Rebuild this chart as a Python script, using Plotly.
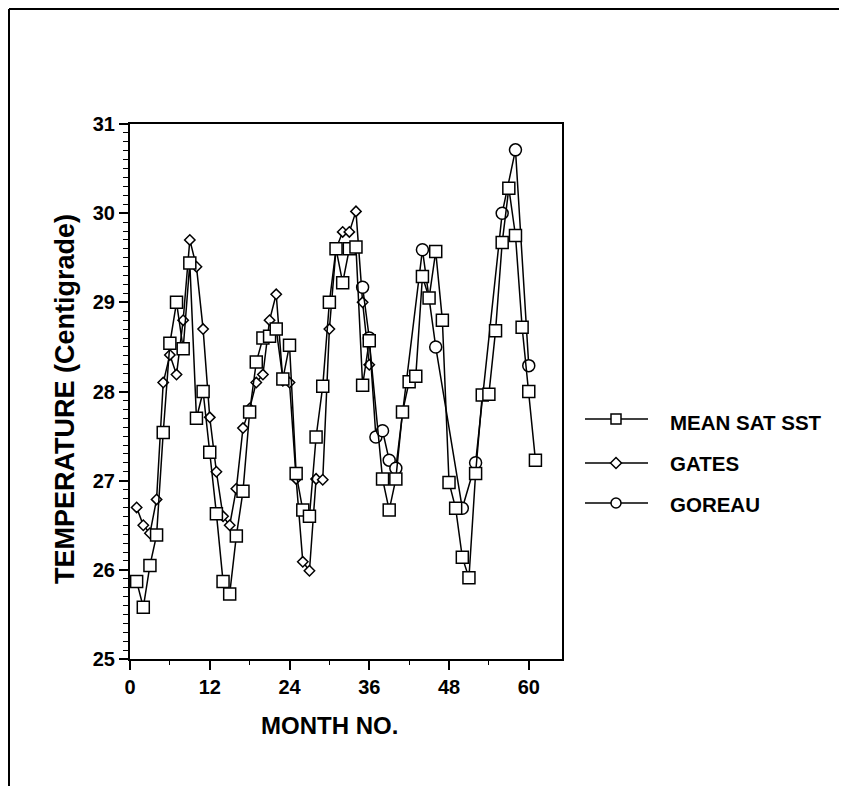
import plotly.graph_objects as go

# ---------------- data ----------------
sst_months = list(range(1, 37)) + list(range(38, 62))
sst_values = [25.87, 25.58, 26.05, 26.39, 27.54, 28.54, 29.00, 28.48, 29.44, 27.70,
              28.00, 27.32, 26.63, 25.87, 25.73, 26.38, 26.88, 27.77, 28.33, 28.60,
              28.62, 28.70, 28.14, 28.52, 27.08, 26.67, 26.60, 27.49, 28.06, 29.00,
              29.60, 29.22, 29.60, 29.62, 28.07, 28.57,
              27.02, 26.67, 27.02, 27.77, 28.11, 28.17, 29.29, 29.05, 29.57, 28.80,
              26.98, 26.69, 26.14, 25.91, 27.08, 27.96, 27.97, 28.68, 29.67, 30.28,
              29.75, 28.72, 28.00, 27.23]

gates_months = list(range(1, 37))
gates_values = [26.70, 26.50, 26.41, 26.79, 28.10, 28.41, 28.19, 28.80, 29.70, 29.40,
                28.70, 27.71, 27.10, 26.60, 26.50, 26.91, 27.59, 27.81, 28.10, 28.19,
                28.80, 29.09, 28.12, 28.10, 27.02, 26.09, 25.99, 27.02, 27.01, 28.70,
                29.60, 29.79, 29.79, 30.02, 29.00, 28.30]

goreau_months = [35, 36, 37, 38, 39, 40, 44, 46, 50, 52, 56, 58, 60]
goreau_values = [29.17, 28.60, 27.49, 27.56, 27.23, 27.14, 29.59, 28.50, 26.69, 27.20,
                 30.00, 30.71, 28.29]

series_names = ["MEAN SAT SST", "GATES", "GOREAU"]
x_ticks = [0, 12, 24, 36, 48, 60]
y_ticks = [25, 26, 27, 28, 29, 30, 31]

# ---------------- layout constants ----------------
OFF = 8                      # page body margin
W, H = 839, 778
L, R, T, B = 122, 285, 116, 127
PW, PH = W - L - R, H - T - B
FONT = "Liberation Sans, Arial, Helvetica, sans-serif"


def xp(px):                  # page pixel -> paper x
    return (px - OFF - L) / PW


def yp(py):                  # page pixel -> paper y
    return (OFF + T + PH - py) / PH


fig = go.Figure()

line_style = dict(color="black", width=1.5)
mk_line = dict(color="black", width=1.5)

fig.add_trace(go.Scatter(x=gates_months, y=gates_values, mode="lines+markers",
                         name=series_names[1], line=line_style,
                         marker=dict(symbol="diamond", size=8, color="white", line=mk_line)))
fig.add_trace(go.Scatter(x=goreau_months, y=goreau_values, mode="lines+markers",
                         name=series_names[2], line=line_style,
                         marker=dict(symbol="circle", size=12, color="white", line=mk_line)))
fig.add_trace(go.Scatter(x=sst_months, y=sst_values, mode="lines+markers",
                         name=series_names[0], line=line_style,
                         marker=dict(symbol="square", size=12, color="white", line=mk_line)))

shapes = []
annotations = []

# manual legend
leg_rows = [(419, 422, "square"), (463, 463, "diamond"), (503, 504, "circle")]
for (ly, ty, sym), name in zip(leg_rows, series_names):
    shapes.append(dict(type="line", xref="paper", yref="paper",
                       x0=xp(585), x1=xp(648), y0=yp(ly), y1=yp(ly),
                       line=dict(color="black", width=1.5)))
    cx = 616
    if sym == "square":
        shapes.append(dict(type="rect", xref="paper", yref="paper",
                           x0=xp(cx - 5), x1=xp(cx + 5), y0=yp(ly + 5), y1=yp(ly - 5),
                           fillcolor="white", line=dict(color="black", width=1.5)))
    elif sym == "circle":
        shapes.append(dict(type="circle", xref="paper", yref="paper",
                           x0=xp(cx - 5), x1=xp(cx + 5), y0=yp(ly + 5), y1=yp(ly - 5),
                           fillcolor="white", line=dict(color="black", width=1.5)))
    else:
        path = "M {a},{b} L {c},{d} L {e},{f} L {g},{h} Z".format(
            a=xp(cx - 5.5), b=yp(ly), c=xp(cx), d=yp(ly - 5.5),
            e=xp(cx + 5.5), f=yp(ly), g=xp(cx), h=yp(ly + 5.5))
        shapes.append(dict(type="path", xref="paper", yref="paper", path=path,
                           fillcolor="white", line=dict(color="black", width=1.5)))
    annotations.append(dict(x=xp(668), y=yp(ty), xref="paper", yref="paper",
                            text=name, showarrow=False, xanchor="left", yanchor="middle",
                            font=dict(family=FONT, size=20.5, color="black", weight="bold")))

# outer frame (top and left)
shapes.append(dict(type="line", xref="paper", yref="paper",
                   x0=xp(OFF + 1), x1=xp(OFF + W + 5), y0=yp(OFF + 1), y1=yp(OFF + 1),
                   line=dict(color="black", width=2)))
shapes.append(dict(type="line", xref="paper", yref="paper",
                   x0=xp(OFF + 1), x1=xp(OFF + 1), y0=yp(OFF + 1), y1=yp(OFF + H + 5),
                   line=dict(color="black", width=2)))

# axis titles
annotations.append(dict(x=30, y=yp(725), xref="x", yref="paper",
                        text="MONTH NO.", showarrow=False, xanchor="center", yanchor="middle",
                        font=dict(family=FONT, size=24, color="black", weight="bold")))
annotations.append(dict(x=xp(65), y=yp(399), xref="paper", yref="paper",
                        text="TEMPERATURE (Centigrade)", showarrow=False, textangle=-90,
                        xanchor="center", yanchor="middle",
                        font=dict(family=FONT, size=27, color="black", weight="bold")))

fig.update_layout(
    width=W, height=H,
    margin=dict(l=L, r=R, t=T, b=B, pad=0),
    paper_bgcolor="white", plot_bgcolor="white",
    showlegend=False,
    shapes=shapes, annotations=annotations,
    font=dict(family=FONT, color="black"),
)

fig.update_xaxes(range=[0, 65], tickvals=x_ticks, ticktext=[str(v) for v in x_ticks],
                 ticks="outside", ticklen=9, tickwidth=1.5, tickcolor="black",
                 showline=True, linecolor="black", linewidth=2, mirror=True,
                 showgrid=False, zeroline=False,
                 tickfont=dict(family=FONT, size=20, color="black", weight="bold"),
                 minor=dict(dtick=6, tick0=0, ticks="outside", ticklen=4,
                            tickwidth=1.2, tickcolor="black", showgrid=False))
fig.update_yaxes(range=[25, 31], tickvals=y_ticks, ticktext=[str(v) for v in y_ticks],
                 ticks="outside", ticklen=9, tickwidth=1.5, tickcolor="black",
                 showline=True, linecolor="black", linewidth=2, mirror=True,
                 showgrid=False, zeroline=False,
                 tickfont=dict(family=FONT, size=20, color="black", weight="bold"),
                 minor=dict(dtick=0.1, tick0=25, ticks="outside", ticklen=5,
                            tickwidth=1, tickcolor="black", showgrid=False))

fig.write_html("out.html")
